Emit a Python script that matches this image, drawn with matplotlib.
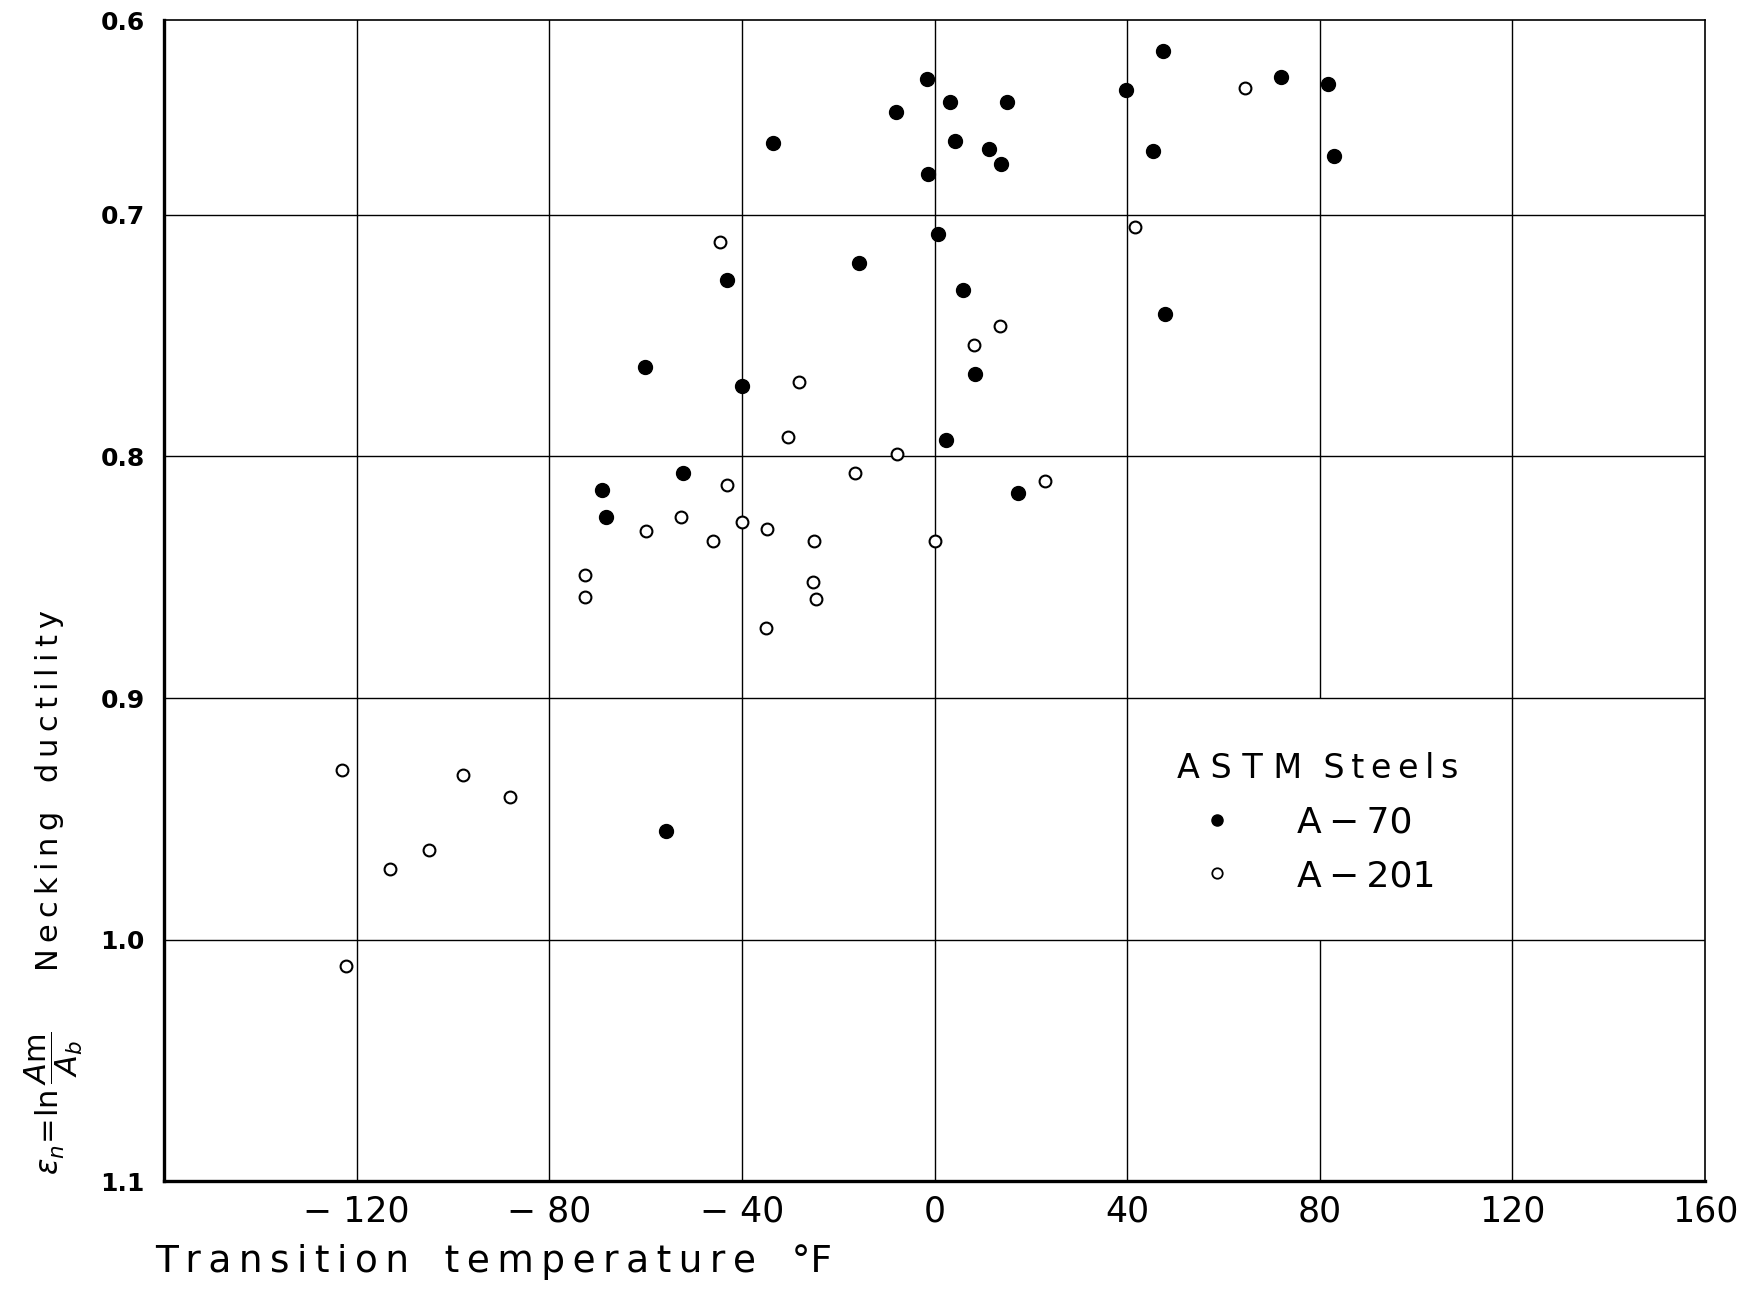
import numpy as np
import matplotlib
matplotlib.use("Agg")
import matplotlib.pyplot as plt
from matplotlib.lines import Line2D

# ============================================================================
# Necking ductility vs. transition temperature, ASTM A-70 and A-201 steels
# ============================================================================

# A-70 (filled dots)
a70_temp = [-33.5, -1.6, -8.1, 3.2, 4.2, -1.4, 11.3, 15.0, 13.9, 39.8,
            47.4, 45.3, 71.9, 81.6, 83.0, 0.7, -15.7, -43.2, 6.0, 47.9,
            -60.1, -40.0, 8.3, 2.3, -52.2, -69.1, -68.2, 17.3, -55.7]
a70_duct = [0.663, 0.630, 0.647, 0.642, 0.662, 0.679, 0.666, 0.642, 0.674, 0.636,
            0.616, 0.667, 0.629, 0.633, 0.670, 0.708, 0.720, 0.727, 0.731, 0.741,
            0.763, 0.771, 0.766, 0.793, 0.807, 0.814, 0.825, 0.815, 0.955]

# A-201 (open circles)
a201_temp = [-44.6, 41.6, 64.5, 13.6, 8.1, -28.2, -30.5, -7.9, -16.6, -43.2,
             22.9, -52.7, -59.9, -40.0, -34.7, -46.0, -25.0, 0.0, -72.6, -72.6,
             -25.2, -24.7, -35.1, -123.0, -98.0, -88.1, -113.1, -105.0, -122.3]
a201_duct = [0.711, 0.705, 0.635, 0.746, 0.754, 0.769, 0.792, 0.799, 0.807, 0.812,
             0.810, 0.825, 0.831, 0.827, 0.830, 0.835, 0.835, 0.835, 0.849, 0.858,
             0.852, 0.859, 0.871, 0.930, 0.932, 0.941, 0.971, 0.963, 1.011]

x_ticks = [-160, -120, -80, -40, 0, 40, 80, 120, 160]
x_ticklabels = ['', '\u2212 120', '\u2212 80', '\u2212 40', '0', '40', '80', '120', '160']
y_ticks = [0.6, 0.7, 0.8, 0.9, 1.0, 1.1]
y_ticklabels = ['0.6', '0.7', '0.8', '0.9', '1.0', '1.1']

plt.rcParams['font.family'] = ['DejaVu Sans']
plt.rcParams['mathtext.fontset'] = 'dejavusans'


def spaced(s, sep='\u2009'):
    # wide tracking like stencil lettering
    return sep.join(s)


# top band of the sheet is squeezed: 0.6-0.7 takes less room than the rest
_v = [0.6, 0.7, 1.1]
_p = [0.0, 175.0, 1042.0]


def fwd(v):
    return np.interp(v, _v, _p)


def inv(p):
    return np.interp(p, _p, _v)


fig = plt.figure(figsize=(17.47, 12.91), dpi=100)
ax = fig.add_axes([0.0939, 0.0852, 0.976 - 0.0939, 0.9845 - 0.0852])

ax.set_yscale('function', functions=(fwd, inv))
ax.set_xlim(-160, 160)
ax.set_ylim(1.1, 0.6)

# grid; the 80 line is left out behind the key
for t in x_ticks[1:-1]:
    if t == 80:
        ax.vlines([t, t], [0.6, 1.0], [0.9, 1.1], color='black', lw=1.0, zorder=1)
    else:
        ax.axvline(t, color='black', lw=1.0, zorder=1)
for v in y_ticks[1:-1]:
    ax.axhline(v, color='black', lw=1.0, zorder=1)

ax.plot(a70_temp, a70_duct, 'o', color='black', ms=10, zorder=3)
ax.plot(a201_temp, a201_duct, 'o', mfc='white', mec='black', mew=1.5, ms=8.5, zorder=3)

# frame: heavy left/bottom, light top/right
for side in ['left', 'bottom']:
    ax.spines[side].set_linewidth(2.4)
for side in ['top', 'right']:
    ax.spines[side].set_linewidth(1.2)

ax.set_xticks(x_ticks)
ax.set_xticklabels(x_ticklabels, fontsize=25)
ax.set_yticks(y_ticks)
ax.set_yticklabels(y_ticklabels, fontsize=18, fontweight='bold')
ax.minorticks_off()
ax.tick_params(length=0, pad=10)
ax.tick_params(axis='y', pad=14)

# key
handles = [Line2D([], [], ls='none', marker='o', color='black', ms=8),
           Line2D([], [], ls='none', marker='o', mfc='white', mec='black', mew=1.3, ms=7.5)]
leg = ax.legend(handles, ['A\u2009\u2212\u200970', 'A\u2009\u2212\u2009201'],
                title='A S T M  ' + spaced('Steels'),
                frameon=False, loc='upper center', bbox_to_anchor=(79.5, 0.915),
                bbox_transform=ax.transData, fontsize=26, title_fontsize=24,
                handlelength=1.0, handletextpad=1.7, labelspacing=0.55, borderpad=0)
leg.set_zorder(4)

# axis titles
fig.text(0.089, 0.0225, spaced('Transition') + '   ' + spaced('temperature') + '   \u00b0F',
         fontsize=27, ha='left', va='center')
fig.text(0.031, 0.0898,
         r'$\varepsilon_n\!=\!\ln\dfrac{A\mathrm{m}}{A_b}$' + '      ' + spaced('Necking') + '   ' + spaced('ductility'),
         fontsize=22, rotation=90, ha='center', va='bottom')

fig.savefig('out.png', dpi=100)
